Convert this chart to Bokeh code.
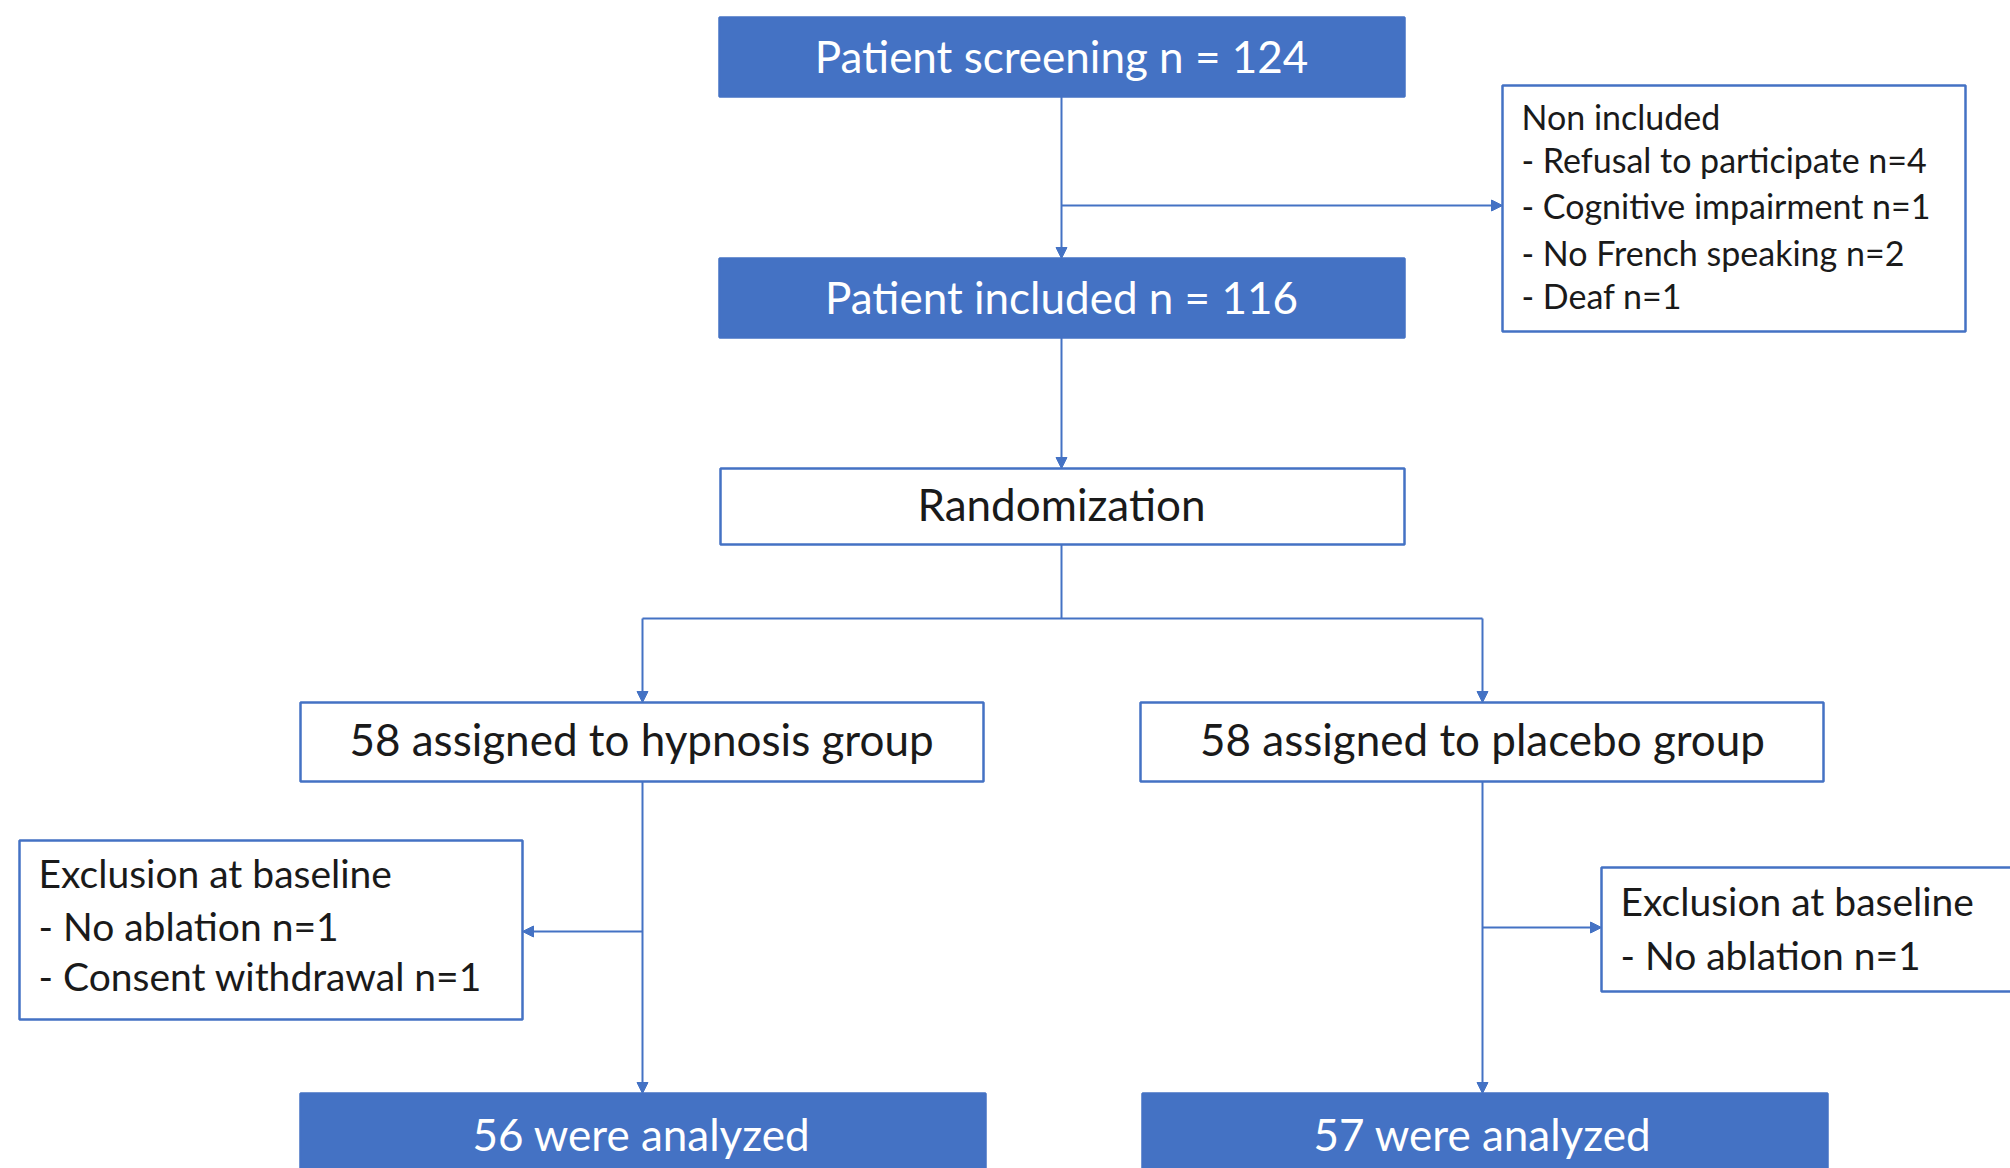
from bokeh.plotting import figure
from bokeh.models import Range1d, Arrow, NormalHead
from bokeh.core.properties import value
from bokeh.embed import file_html
from bokeh.resources import INLINE

# ---- data ----
screened = 124
included = 116
non_included_reasons = ["Refusal to participate", "Cognitive impairment", "No French speaking", "Deaf"]
non_included_counts = [4, 1, 2, 1]
arm_names = ["hypnosis", "placebo"]
assigned_counts = [58, 58]
excl_reasons_hyp = ["No ablation", "Consent withdrawal"]
excl_counts_hyp = [1, 1]
excl_reasons_pla = ["No ablation"]
excl_counts_pla = [1]
analyzed_counts = [56, 57]

# ---- style / layout ----
BLUE = "#4472C4"
DARK = "#1a1a1a"
FONT = "Lato"
MAIN_SIZE = "44px"
SIDE_SIZE_TOP = "34px"
SIDE_SIZE_EXCL = "39px"
LW = 2.5

W, H = 2010, 1168
p = figure(width=W, height=H, output_backend="svg", toolbar_location=None,
           x_range=Range1d(0, W), y_range=Range1d(H, 0),
           min_border=0, outline_line_color=None)
p.axis.visible = False
p.grid.visible = False
p.background_fill_color = "white"
p.border_fill_color = "white"


def box(l, r, t, b, filled):
    p.quad(left=[l], right=[r], top=[t], bottom=[b],
           fill_color=BLUE if filled else "white",
           line_color=BLUE, line_width=LW)


def ctext(x, y, s, color, size):
    p.text(x=[x], y=[y], text=[s], text_align="center", text_baseline="middle",
           text_color=color, text_font=value(FONT), text_font_size=size)


def ltext(x, ys, lines, size):
    p.text(x=[x] * len(lines), y=ys, text=lines, text_align="left", text_baseline="middle",
           text_color=DARK, text_font=value(FONT), text_font_size=size)


def arrow(x0, y0, x1, y1):
    p.add_layout(Arrow(end=NormalHead(size=11, fill_color=BLUE, line_color=BLUE, line_width=1),
                       x_start=x0, y_start=y0, x_end=x1, y_end=y1,
                       line_color=BLUE, line_width=2))


def seg(x0, y0, x1, y1):
    p.segment(x0=[x0], y0=[y0], x1=[x1], y1=[y1], line_color=BLUE, line_width=2)


# connectors
arrow(1061, 96, 1061, 258)
arrow(1061, 205, 1502, 205)
arrow(1061, 337, 1061, 468)
seg(1061, 544, 1061, 618)
seg(642, 618, 1482, 618)
arrow(642, 618, 642, 702)
arrow(1482, 618, 1482, 702)
arrow(642, 781, 642, 1093)
arrow(642, 931, 522, 931)
arrow(1482, 781, 1482, 1093)
arrow(1482, 927, 1601, 927)

# boxes
box(719, 1404, 17, 96, True)
ctext(1061, 55, f"Patient screening n = {screened}", "white", MAIN_SIZE)

box(719, 1404, 258, 337, True)
ctext(1061, 296, f"Patient included n = {included}", "white", MAIN_SIZE)

box(1502, 1965, 85, 331, False)
ni_lines = ["Non included"] + [f"- {r} n={c}" for r, c in zip(non_included_reasons, non_included_counts)]
ltext(1521, [116, 159, 205, 252, 295], ni_lines, SIDE_SIZE_TOP)

box(720, 1404, 468, 544, False)
ctext(1061, 503, "Randomization", DARK, MAIN_SIZE)

box(300, 983, 702, 781, False)
ctext(641, 738, f"{assigned_counts[0]} assigned to {arm_names[0]} group", DARK, MAIN_SIZE)
box(1140, 1823, 702, 781, False)
ctext(1482, 738, f"{assigned_counts[1]} assigned to {arm_names[1]} group", DARK, MAIN_SIZE)

box(19, 522, 840, 1019, False)
eh = ["Exclusion at baseline"] + [f"- {r} n={c}" for r, c in zip(excl_reasons_hyp, excl_counts_hyp)]
ltext(38, [872, 925, 975], eh, SIDE_SIZE_EXCL)

box(1601, 2040, 867, 991, False)
ep = ["Exclusion at baseline"] + [f"- {r} n={c}" for r, c in zip(excl_reasons_pla, excl_counts_pla)]
ltext(1620, [900, 954], ep, SIDE_SIZE_EXCL)

box(300, 985, 1093, 1200, True)
ctext(641, 1133, f"{analyzed_counts[0]} were analyzed", "white", MAIN_SIZE)
box(1142, 1827, 1093, 1200, True)
ctext(1482, 1133, f"{analyzed_counts[1]} were analyzed", "white", MAIN_SIZE)

open("out.html", "w").write(file_html(p, INLINE))
